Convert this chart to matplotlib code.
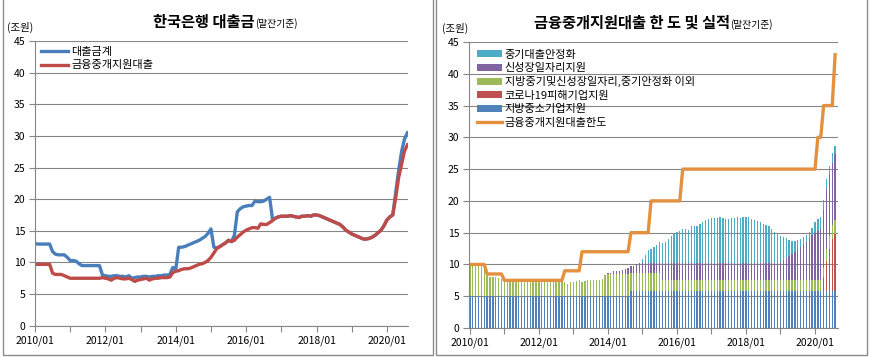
import numpy as np
import pandas as pd
import matplotlib
matplotlib.use("Agg")
import matplotlib.pyplot as plt
from matplotlib.patches import Rectangle

plt.rcParams['font.family'] = ['Noto Sans CJK KR', 'DejaVu Sans']

# monthly data, 2010/01 ~ 2020/08 (조원, 말잔기준)
months = pd.period_range("2010-01", "2020-08", freq="M")

# 금융중개지원대출 잔액
intermediary_loans = [
    9.7, 9.7, 9.7, 9.7, 9.7, 9.7, 8.3, 8.1, 8.1, 8.1, 7.9, 7.7,
    7.5, 7.5, 7.5, 7.5, 7.5, 7.5, 7.5, 7.5, 7.5, 7.5, 7.5, 7.6,
    7.5, 7.4, 7.2, 7.5, 7.6, 7.5, 7.4, 7.4, 7.5, 7.3, 7.0, 7.2,
    7.3, 7.4, 7.5, 7.2, 7.4, 7.5, 7.5, 7.6, 7.6, 7.6, 7.7, 8.4,
    8.6, 8.7, 8.9, 9.0, 9.0, 9.1, 9.3, 9.5, 9.7, 9.8, 10.0, 10.3,
    10.8, 11.5, 12.2, 12.5, 12.8, 13.1, 13.5, 13.3, 13.5, 14.0, 14.4, 14.8,
    15.1, 15.3, 15.5, 15.5, 15.4, 16.1, 16.0, 16.0, 16.3, 16.6, 17.0, 17.2,
    17.3, 17.3, 17.3, 17.4, 17.3, 17.2, 17.1, 17.3, 17.3, 17.4, 17.3, 17.5,
    17.5, 17.4, 17.2, 17.0, 16.8, 16.6, 16.4, 16.2, 16.0, 15.6, 15.1, 14.8,
    14.5, 14.3, 14.1, 13.9, 13.7, 13.7, 13.8, 14.0, 14.3, 14.7, 15.1, 15.8,
    16.7, 17.2, 17.5, 20.2, 23.4, 25.5, 27.6, 28.6,
]

# 한국은행 대출금계
total_loans = [
    13.0, 12.9, 12.9, 12.9, 12.9, 12.9, 11.7, 11.3, 11.2, 11.2, 11.2, 10.8,
    10.3, 10.3, 10.2, 9.8, 9.5, 9.5, 9.5, 9.5, 9.5, 9.5, 9.5, 8.0,
    7.9, 7.8, 7.8, 7.9, 7.9, 7.8, 7.8, 7.7, 7.9, 7.5, 7.6, 7.7,
    7.7, 7.8, 7.8, 7.7, 7.8, 7.8, 7.9, 7.9, 8.0, 8.0, 8.1, 9.2,
    8.9, 12.4, 12.4, 12.5, 12.7, 12.9, 13.1, 13.3, 13.5, 13.8, 14.1, 14.6,
    15.3, 12.4, 12.3, 12.5, 12.8, 13.1, 13.5, 13.3, 14.3, 18.0, 18.5, 18.8,
    18.9, 19.0, 19.0, 19.7, 19.6, 19.6, 19.7, 20.0, 20.3, 16.8, 17.0, 17.2,
    17.3, 17.3, 17.3, 17.4, 17.3, 17.2, 17.1, 17.3, 17.3, 17.4, 17.3, 17.5,
    17.5, 17.4, 17.2, 17.0, 16.8, 16.6, 16.4, 16.2, 16.0, 15.6, 15.1, 14.8,
    14.5, 14.3, 14.1, 13.9, 13.7, 13.7, 13.8, 14.0, 14.3, 14.7, 15.1, 15.8,
    16.7, 17.2, 17.5, 21.0, 24.5, 27.5, 29.5, 30.5,
]

# 프로그램별 실적 (stack, bottom -> top)
local_sme = [5.0] * 56 + [5.8] * 72
covid = [0.0] * 123 + [2.2, 4.7, 6.7, 8.2, 9.0]
other_programs = (
    [4.7, 4.7, 4.7, 4.7, 4.7, 4.7, 3.3, 3.1, 3.1, 3.1, 2.9, 2.7]
    + [2.5] * 11 + [2.6]
    + [2.5, 2.4, 2.2, 2.5, 2.6, 2.5, 2.4, 2.4, 2.5, 2.3, 2.0, 2.2]
    + [2.3, 2.4, 2.5, 2.2, 2.4, 2.5, 2.5, 2.6, 2.6, 2.6, 2.7, 3.4]
    + [3.5] * 8 + [2.8] * 4
    + [2.8] * 7 + [1.7] * 5
    + [1.7] * 48
    + [1.7, 1.7, 1.7, 1.5, 2.0, 2.0, 2.2, 2.2]
)
new_growth = (
    [0.0] * 48
    + [0.1, 0.2, 0.4, 0.5, 0.5, 0.6, 0.8, 1.0, 1.1, 1.2, 1.4, 1.6]
    + [1.6] * 7 + [2.7] * 41
    + [2.9, 3.2, 3.5, 3.8, 4.1, 4.5, 4.9, 5.3, 5.7, 6.1, 6.6, 7.1]
    + [7.5, 7.8, 8.1, 9.0, 9.3, 9.5, 9.8, 10.3]
)
stabilization = (
    [0.0] * 59 + [0.1]
    + [0.6, 1.3, 2.0, 2.3, 2.6, 2.9, 3.3, 3.1, 3.3, 3.8, 4.2, 4.6]
    + [4.9, 5.1, 5.3, 5.3, 5.2, 5.9, 5.8, 5.8, 6.1, 6.4, 6.8, 7.0]
    + [7.1, 7.1, 7.1, 7.2, 7.1, 7.0, 6.9, 7.1, 7.1, 7.2, 7.1, 7.3]
    + [7.3, 7.2, 7.0, 6.8, 6.6, 6.4, 6.2, 6.0, 5.8, 5.4, 4.9, 4.6]
    + [4.1, 3.6, 3.1, 2.6, 2.1, 1.7, 1.4, 1.2, 1.1, 1.1, 1.0, 1.2]
    + [1.7, 1.9, 1.9, 1.7, 1.6, 1.5, 1.6, 1.3]
)

# 금융중개지원대출 한도
loan_limit = (
    [10.0] * 6 + [8.5] * 6 + [7.5] * 21 + [9.0] * 6 + [12.0] * 17
    + [15.0] * 7 + [20.0] * 11 + [25.0] * 47 + [30.0] * 2 + [35.0] * 4 + [43.0]
)

W, H = 870, 357
fig = plt.figure(figsize=(W / 100, H / 100), dpi=100)

def fx(px):
    return px / W

def fy(py):
    return 1 - py / H

# panel frames (top edge is outside the picture)
for x0, x1 in [(3, 433), (436, 867)]:
    fig.add_artist(Rectangle((fx(x0), fy(355)), fx(x1 - x0), 365 / H,
                             transform=fig.transFigure, fill=False,
                             edgecolor="#8c8c8c", lw=1.0))

grid_c = "#868686"
x = np.arange(len(months))
major = np.arange(0, len(months), 24)
minor = np.arange(12, len(months), 24)
labels = [months[i].strftime("%Y/%m") for i in major]


def style_axes(ax):
    ax.set_ylim(0, 45)
    ax.set_yticks(np.arange(0, 46, 5))
    ax.yaxis.grid(True, color=grid_c, lw=0.8)
    ax.set_axisbelow(True)
    for s in ["top", "right"]:
        ax.spines[s].set_visible(False)
    for s in ["left", "bottom"]:
        ax.spines[s].set_color(grid_c)
        ax.spines[s].set_linewidth(0.8)
    ax.set_xticks(major)
    ax.set_xticklabels(labels)
    ax.set_xticks(minor, minor=True)
    ax.tick_params(axis="both", which="both", length=4, color=grid_c,
                   labelsize=7.5, width=0.8)
    ax.tick_params(axis="x", pad=3)
    ax.tick_params(axis="y", pad=3)


# ---- left: 한국은행 대출금
ax1 = fig.add_axes([fx(35), fy(325.7), fx(373), 284.7 / H])
ax1.plot(x, total_loans, color="#4A7EBB", lw=2.4, label="대출금계")
ax1.plot(x, intermediary_loans, color="#BE4B48", lw=2.4, label="금융중개지원대출")
ax1.set_xlim(0, 127.2)
style_axes(ax1)
ax1.legend(loc="upper left", bbox_to_anchor=(0.0, 1.0), frameon=False,
           fontsize=8, handlelength=2.4, handletextpad=0.3, labelspacing=0.3,
           borderaxespad=0.15)

fig.text(fx(255), fy(26.5), "한국은행 대출금", ha="right", va="baseline",
         fontsize=11, fontweight="bold")
fig.text(fx(255), fy(26.5), "(말잔기준)", ha="left", va="baseline", fontsize=7)
fig.text(fx(7), fy(27), "(조원)", ha="left", va="center", fontsize=7.5)

# ---- right: 금융중개지원대출 한도 및 실적
ax2 = fig.add_axes([fx(469), fy(328), fx(369), 286 / H])
bw = 0.45
bottom = np.zeros(len(months))
series = [
    (local_sme, "#4F81BD", "지방중소기업지원"),
    (covid, "#C0504D", "코로나19피해기업지원"),
    (other_programs, "#9BBB59", "지방중기및신성장일자리,중기안정화 이외"),
    (new_growth, "#8064A2", "신성장일자리지원"),
    (stabilization, "#4BACC6", "중기대출안정화"),
]
bars = {}
for vals, col, name in series:
    vals = np.array(vals)
    bars[name] = ax2.bar(x, vals, bw, bottom=bottom, color=col, linewidth=0,
                         label=name)
    bottom = bottom + vals
line, = ax2.plot(x, loan_limit, color="#E4903F", lw=2.4, label="금융중개지원대출한도")
ax2.set_xlim(-0.3, 128)
style_axes(ax2)

order = ["중기대출안정화", "신성장일자리지원", "지방중기및신성장일자리,중기안정화 이외",
         "코로나19피해기업지원", "지방중소기업지원"]
handles = [bars[n] for n in order] + [line]
ax2.legend(handles, order + ["금융중개지원대출한도"], loc="upper left",
           bbox_to_anchor=(0.0, 1.0), frameon=False, fontsize=8,
           handlelength=2.3, handleheight=0.6, handletextpad=0.2,
           labelspacing=0.3, borderaxespad=0.3)

fig.text(fx(730), fy(27.5), "금융중개지원대출 한 도 및 실적", ha="right",
         va="baseline", fontsize=11, fontweight="bold")
fig.text(fx(730), fy(27.5), "(말잔기준)", ha="left", va="baseline", fontsize=7)
fig.text(fx(442), fy(28), "(조원)", ha="left", va="center", fontsize=7.5)

fig.savefig("out.png", dpi=100)
